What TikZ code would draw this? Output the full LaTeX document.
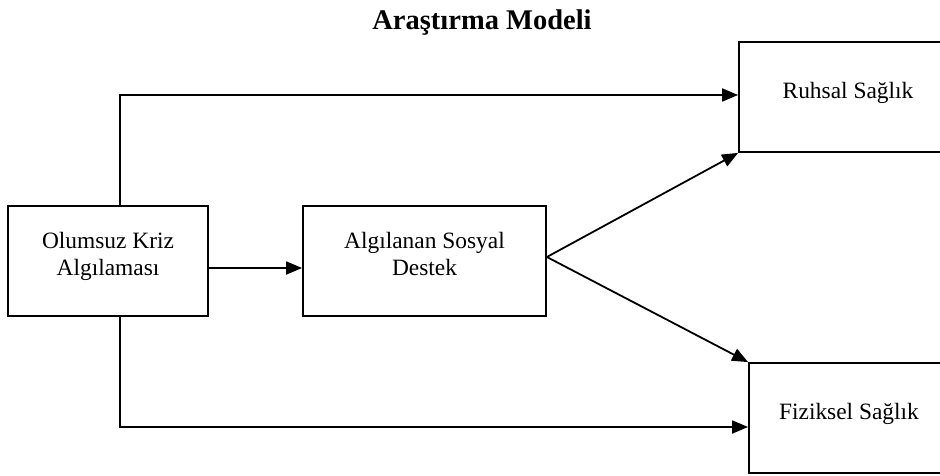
\documentclass[tikz,border=0pt]{standalone}
\usepackage{fontspec}
\setmainfont{Liberation Serif}
\usetikzlibrary{arrows.meta}
\begin{document}
\begin{tikzpicture}[x=1pt,y=-1pt,
  box/.style={draw,line width=1.8pt,rectangle,inner sep=0pt,align=center,
    text depth=14pt,font=\fontsize{23.4}{27}\selectfont},
  conn/.style={line width=1.8pt,-{Triangle[length=16pt,width=13pt]}}]
\useasboundingbox (0,0) rectangle (940,476);
\clip (0,0) rectangle (940,476);
\node[font=\fontsize{28.5}{30}\selectfont\bfseries] (title) at (482,23) {Araştırma Modeli};
\node[box,minimum width=200pt,minimum height=110pt] (o) at (108,261) {Olumsuz Kriz\\Algılaması};
\node[box,minimum width=243pt,minimum height=110pt] (a) at (424.5,261) {Algılanan Sosyal\\Destek};
\node[box,minimum width=218pt,minimum height=110pt] (r) at (848,97) {Ruhsal Sağlık};
\node[box,minimum width=200pt,minimum height=110pt] (f) at (849,418) {Fiziksel Sağlık};
\draw[conn] ([yshift=-7pt]o.east) -- ([yshift=-7pt]o.east -| a.west);
\draw[conn] ([xshift=12pt]o.north) |- ([yshift=2pt]r.west);
\draw[conn] ([xshift=12pt]o.south) |- ([yshift=-9pt]f.west);
\draw[conn] ([yshift=4pt]a.east) -- (r.south west);
\draw[conn] ([yshift=4pt]a.east) -- (f.north west);
\end{tikzpicture}
\end{document}
